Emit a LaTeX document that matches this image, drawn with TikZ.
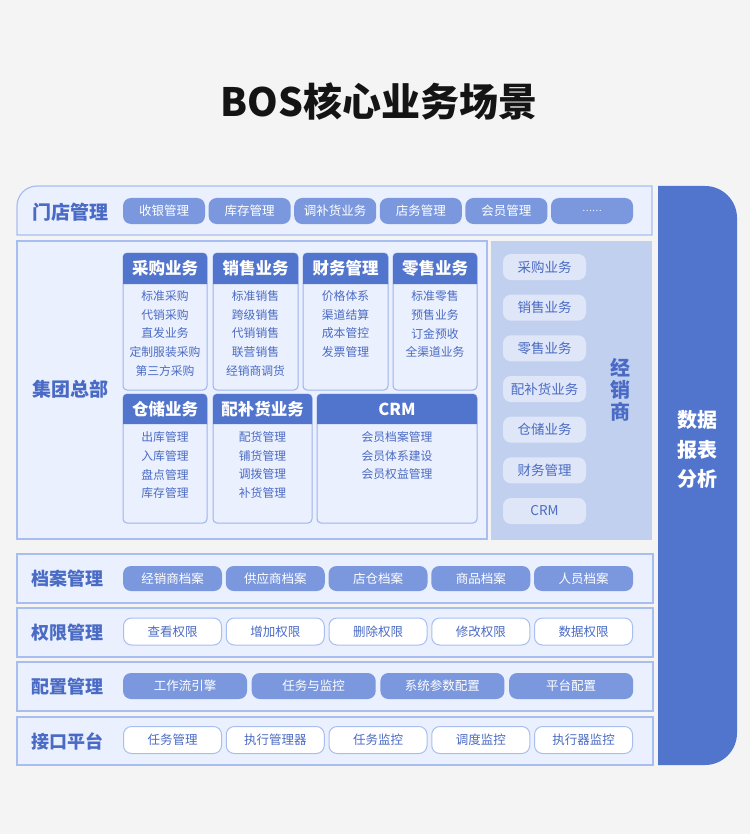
\documentclass[tikz,border=0pt]{standalone}
\usepackage{fontspec}
\setmainfont{Noto Sans CJK SC}
\definecolor{bgc}{HTML}{F4F4F4}
\definecolor{titlec}{HTML}{141414}
\definecolor{pfill}{HTML}{EAF0FD}
\definecolor{pborder}{HTML}{A9BEF0}
\definecolor{cborder}{HTML}{9DB3EC}
\definecolor{darkc}{HTML}{5174CD}
\definecolor{pillc}{HTML}{7B98DE}
\definecolor{lblc}{HTML}{4A6BC5}
\definecolor{itemc}{HTML}{4B6BC4}
\definecolor{rpanel}{HTML}{C2D0F0}
\definecolor{rpill}{HTML}{DEE6F8}
\newcommand\mycard[7]{%
  \node[card, minimum width={#3pt-#2pt}, minimum height={#6pt-#4pt}] (#1) at ({(#2+#3)/2},{(#4+#6)/2}) {};
  \fill[darkc] (#2,#5) [rounded corners=4pt] -- (#2,#4) -- (#3,#4) [sharp corners] -- (#3,#5) -- cycle;
  \node[hdrtxt] (#1h) at ({(#2+#3)/2},{(#4+#5)/2}) {#7};
}
\begin{document}
\begin{tikzpicture}[x=1pt,y=-1pt,
  panel/.style={fill=pfill, draw=pborder, line width=1.2pt},
  lbl/.style={anchor=west, text=lblc, inner sep=0, font=\fontsize{19}{19}\selectfont\bfseries},
  lblb/.style={anchor=west, text=lblc, inner sep=0, font=\fontsize{18}{18}\selectfont\bfseries},
  fpill/.style={fill=pillc, rounded corners=8pt, text=white, minimum height=26pt, inner sep=0, font=\fontsize{12.5}{12.5}\selectfont},
  wpill/.style={fill=white, draw=pborder, line width=1pt, rounded corners=8pt, text=itemc, minimum height=27pt, inner sep=0, font=\fontsize{12.5}{12.5}\selectfont},
  rpillst/.style={fill=rpill, rounded corners=8pt, text=itemc, minimum width=83pt, minimum height=26pt, inner sep=0, font=\fontsize{13.5}{13.5}\selectfont},
  card/.style={fill=pfill, draw=cborder, line width=1pt, rounded corners=4pt, inner sep=0, outer sep=0},
  hdrtxt/.style={text=white, inner sep=0, font=\fontsize{16.5}{16.5}\selectfont\bfseries},
  item/.style={text=itemc, inner sep=0, font=\fontsize{11.8}{11.8}\selectfont},
  vtxt/.style={inner sep=0, font=\fontsize{20}{20}\selectfont\bfseries}
]
\fill[bgc] (0,0) rectangle (750,834);
\useasboundingbox (0,0) rectangle (750,834);

% title
\node[text=titlec, font=\fontsize{39}{39}\selectfont\bfseries, inner sep=0] (title) at (379,101) {BOS核心业务场景};

% right blue panel
\fill[darkc] (658,186) [rounded corners=32pt] -- (737,186) -- (737,765) [sharp corners] -- (658,765) -- cycle;
\node[vtxt, text=white] (sj1) at (697,420) {数据};
\node[vtxt, text=white] (sj2) at (697,450) {报表};
\node[vtxt, text=white] (sj3) at (697,479) {分析};

% store management row
\draw[panel] (17,235) [rounded corners=20pt] -- (17,186) [sharp corners] -- (652,186) -- (652,235) -- cycle;
\node[lbl] (mdl) at (32,212) {门店管理};
\foreach \t [count=\i] in {收银管理,库存管理,调补货业务,店务管理,会员管理}
  \node[fpill, minimum width=82pt] (md\i) at ({164+85.6*(\i-1)},211) {\t};
\node[fpill, minimum width=82pt, font=\fontsize{9}{9}\selectfont] (md6) at (592,211) {……};

% group HQ
\draw[panel] (17,241) rectangle (487,539);
\node[lbl] (hql) at (32,389) {集团总部};

\mycard{cg}{123}{207}{253}{284}{390}{采购业务}
\mycard{xs}{213}{298}{253}{284}{390}{销售业务}
\mycard{cw}{303}{388}{253}{284}{390}{财务管理}
\mycard{ls}{393}{477}{253}{284}{390}{零售业务}
\mycard{cc}{123}{207}{394}{424}{523}{仓储业务}
\mycard{pb}{213}{312}{394}{424}{523}{配补货业务}
\mycard{crm}{317}{477}{394}{424}{523}{CRM}

\foreach \t [count=\i] in {标准采购,代销采购,直发业务,定制服装采购,第三方采购}
  \node[item] (cg\i) at ({165},{296+18.75*(\i-1)}) {\t};
\foreach \t [count=\i] in {标准销售,跨级销售,代销销售,联营销售,经销商调货}
  \node[item] (xs\i) at ({255.5},{296+18.75*(\i-1)}) {\t};
\foreach \t [count=\i] in {价格体系,渠道结算,成本管控,发票管理}
  \node[item] (cw\i) at ({345.5},{296+18.75*(\i-1)}) {\t};
\foreach \t [count=\i] in {标准零售,预售业务,订金预收,全渠道业务}
  \node[item] (ls\i) at ({435},{296+18.75*(\i-1)}) {\t};
\foreach \t [count=\i] in {出库管理,入库管理,盘点管理,库存管理}
  \node[item] (cc\i) at ({165},{437+18.75*(\i-1)}) {\t};
\foreach \t [count=\i] in {配货管理,铺货管理,调拨管理,补货管理}
  \node[item] (pb\i) at ({262.5},{437+18.75*(\i-1)}) {\t};
\foreach \t [count=\i] in {会员档案管理,会员体系建设,会员权益管理}
  \node[item] (crm\i) at ({397},{437+18.75*(\i-1)}) {\t};

% dealer panel
\fill[rpanel] (491,241) rectangle (652,540);
\foreach \t [count=\i] in {采购业务,销售业务,零售业务,配补货业务,仓储业务,财务管理,CRM}
  \node[rpillst] (jx\i) at ({544.5},{267+40.67*(\i-1)}) {\t};
\node[vtxt, text=lblc] (jxs1) at (620,368) {经};
\node[vtxt, text=lblc] (jxs2) at (620,390) {销};
\node[vtxt, text=lblc] (jxs3) at (620,412) {商};

% bottom rows
\draw[panel] (17,554) rectangle (653,603);
\draw[panel] (17,608) rectangle (653,657);
\draw[panel] (17,662) rectangle (653,711);
\draw[panel] (17,717) rectangle (653,765);
\node[lblb] (dal) at (31,578.5) {档案管理};
\node[lblb] (qxl) at (31,632.5) {权限管理};
\node[lblb] (pzl) at (31,686.5) {配置管理};
\node[lblb] (jkl) at (31,741) {接口平台};
\foreach \t [count=\i] in {经销商档案,供应商档案,店仓档案,商品档案,人员档案}
  \node[fpill, minimum width=99pt, minimum height=25pt] (da\i) at ({172.5+102.75*(\i-1)},578.5) {\t};
\foreach \t [count=\i] in {查看权限,增加权限,删除权限,修改权限,数据权限}
  \node[wpill, minimum width=98pt] (qx\i) at ({172.5+102.75*(\i-1)},631.5) {\t};
\foreach \t [count=\i] in {工作流引擎,任务与监控,系统参数配置,平台配置}
  \node[fpill, minimum width=124pt] (pz\i) at ({185+128.7*(\i-1)},686) {\t};
\foreach \t [count=\i] in {任务管理,执行管理器,任务监控,调度监控,执行器监控}
  \node[wpill, minimum width=98pt] (jk\i) at ({172.5+102.75*(\i-1)},740) {\t};
\end{tikzpicture}
\end{document}
